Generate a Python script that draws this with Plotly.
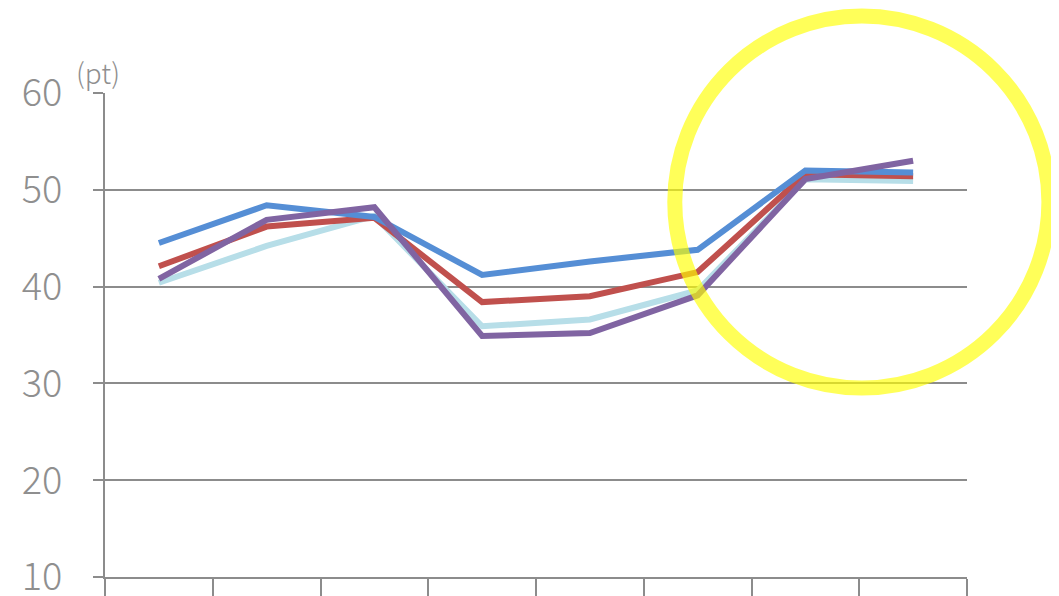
import plotly.graph_objects as go

categories = ["1", "2", "3", "4", "5", "6", "7", "8"]
series_blue = [44.5, 48.4, 47.2, 41.2, 42.6, 43.8, 52.0, 51.8]
series_red = [42.1, 46.2, 47.1, 38.4, 39.0, 41.5, 51.6, 51.4]
series_lightblue = [40.4, 44.2, 47.3, 35.9, 36.6, 39.6, 51.1, 50.9]
series_purple = [40.8, 46.9, 48.2, 34.9, 35.2, 39.1, 51.1, 53.0]
y_ticks = [10, 20, 30, 40, 50, 60]

GRAY = "#8c8c8c"
LABEL = "#8f8f8f"
fig = go.Figure()
for name, vals, col in [
    ("lightblue", series_lightblue, "#B7DEE8"),
    ("red", series_red, "#C0504D"),
    ("blue", series_blue, "#558ED5"),
    ("purple", series_purple, "#8064A2"),
]:
    fig.add_trace(go.Scatter(x=categories, y=vals, mode="lines", name=name,
                             line=dict(color=col, width=6), showlegend=False))

fig.update_layout(
    width=1059, height=596,
    margin=dict(l=97, r=100, t=85, b=27),
    plot_bgcolor="white", paper_bgcolor="white",
    font=dict(family="Noto Sans CJK JP", color=LABEL),
    xaxis=dict(type="category", range=[-0.5, 7.5], showticklabels=False,
               ticks="outside", tickson="boundaries", ticklen=20, tickwidth=2,
               tickcolor=GRAY, showgrid=False, showline=True, linecolor=GRAY,
               linewidth=2, zeroline=False, automargin=False),
    yaxis=dict(range=[10, 60], tickvals=y_ticks, ticks="outside", ticklen=10,
               tickwidth=2, tickcolor=GRAY, showgrid=True, gridcolor=GRAY,
               gridwidth=2, showline=True, linecolor=GRAY, linewidth=2,
               zeroline=False, automargin=False,
               tickfont=dict(size=38, color=LABEL, family="Noto Sans CJK JP",
                             weight=300),
               ticklabelstandoff=23),
)
fig.add_annotation(text="(pt)", xref="paper", yref="paper", x=-0.008, y=1.043,
                   xanchor="center", yanchor="middle", showarrow=False,
                   font=dict(size=28, color=LABEL, family="Noto Sans CJK JP",
                             weight=300))
fig.add_shape(type="circle", xref="paper", yref="paper",
              x0=0.661, x1=1.095, y0=0.3905, y1=1.159,
              line=dict(color="rgba(255,255,0,0.65)", width=15), layer="above")
fig.write_html("out.html")
